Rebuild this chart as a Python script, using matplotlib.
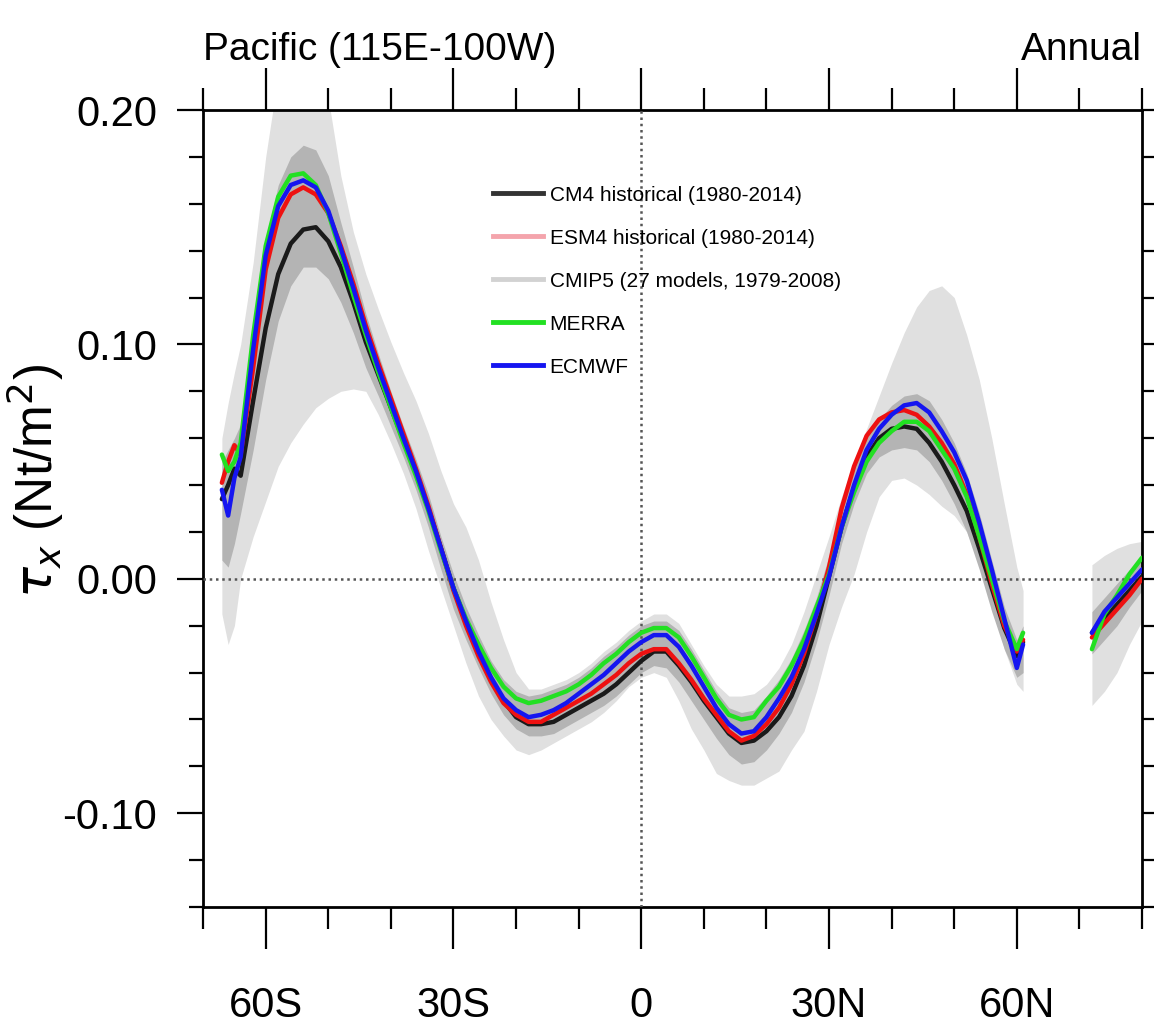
import matplotlib
matplotlib.use("Agg")
import matplotlib.pyplot as plt
from matplotlib.lines import Line2D
from matplotlib.ticker import MultipleLocator, FixedLocator

plt.rcParams['font.family'] = ['Liberation Sans', 'DejaVu Sans']

# latitude grid (negative = south); the curves have a gap between 61N and 72N
lat_a = [-67, -66, -65, -64,
         -62, -60, -58, -56, -54, -52, -50, -48, -46, -44, -42, -40, -38, -36, -34, -32,
         -30, -28, -26, -24, -22, -20, -18, -16, -14, -12, -10, -8, -6, -4, -2,
         0, 2, 4, 6, 8, 10, 12, 14, 16, 18, 20, 22, 24, 26, 28,
         30, 32, 34, 36, 38, 40, 42, 44, 46, 48, 50, 52, 54, 56, 58, 60, 61]
lat_b = [72, 74, 76, 78, 80]

cm4_a = [0.034, 0.040, 0.047, 0.044,
         0.076, 0.107, 0.130, 0.143, 0.149, 0.150, 0.144, 0.133, 0.118, 0.101, 0.087, 0.073, 0.059, 0.045, 0.030, 0.013,
         -0.004, -0.018, -0.031, -0.043, -0.052, -0.059, -0.062, -0.062, -0.061, -0.058, -0.055, -0.052, -0.049, -0.045, -0.040,
         -0.035, -0.031, -0.031, -0.037, -0.044, -0.052, -0.059, -0.066, -0.070, -0.069, -0.065, -0.059, -0.050, -0.037, -0.020,
         0.001, 0.022, 0.039, 0.052, 0.060, 0.064, 0.065, 0.064, 0.058, 0.050, 0.040, 0.029, 0.013, -0.004, -0.021, -0.033, -0.027]
esm4_a = [0.041, 0.050, 0.057, 0.053,
          0.090, 0.132, 0.154, 0.164, 0.167, 0.164, 0.156, 0.142, 0.126, 0.108, 0.092, 0.077, 0.062, 0.047, 0.031, 0.013,
          -0.005, -0.020, -0.033, -0.044, -0.053, -0.058, -0.061, -0.061, -0.058, -0.055, -0.052, -0.049, -0.045, -0.041, -0.036,
          -0.032, -0.030, -0.030, -0.036, -0.043, -0.051, -0.058, -0.065, -0.069, -0.067, -0.062, -0.055, -0.045, -0.032, -0.015,
          0.005, 0.030, 0.048, 0.061, 0.068, 0.071, 0.072, 0.070, 0.065, 0.058, 0.049, 0.036, 0.018, -0.002, -0.020, -0.031, -0.026]
merra_a = [0.053, 0.046, 0.050, 0.058,
           0.104, 0.142, 0.163, 0.172, 0.173, 0.168, 0.156, 0.139, 0.121, 0.104, 0.088, 0.073, 0.058, 0.044, 0.029, 0.012,
           -0.004, -0.017, -0.028, -0.038, -0.046, -0.051, -0.053, -0.052, -0.050, -0.048, -0.045, -0.041, -0.036, -0.032, -0.027,
           -0.023, -0.021, -0.021, -0.025, -0.033, -0.042, -0.051, -0.058, -0.060, -0.059, -0.052, -0.046, -0.037, -0.026, -0.012,
           0.002, 0.022, 0.037, 0.050, 0.058, 0.063, 0.067, 0.067, 0.063, 0.055, 0.047, 0.035, 0.018, 0.000, -0.018, -0.030, -0.023]
ecmwf_a = [0.038, 0.027, 0.043, 0.052,
           0.098, 0.138, 0.159, 0.168, 0.170, 0.167, 0.157, 0.141, 0.124, 0.106, 0.090, 0.075, 0.060, 0.046, 0.030, 0.013,
           -0.004, -0.018, -0.031, -0.042, -0.051, -0.056, -0.059, -0.058, -0.056, -0.053, -0.049, -0.045, -0.041, -0.036, -0.031,
           -0.027, -0.024, -0.024, -0.029, -0.037, -0.046, -0.055, -0.062, -0.066, -0.065, -0.059, -0.051, -0.042, -0.030, -0.015,
           0.001, 0.022, 0.040, 0.055, 0.064, 0.070, 0.074, 0.075, 0.071, 0.063, 0.054, 0.042, 0.024, 0.004, -0.017, -0.038, -0.028]

# CMIP5 spread: outer (light) and inner (dark) envelopes
cmip5_hi_a = [0.060, 0.075, 0.088, 0.100,
              0.135, 0.180, 0.215, 0.225, 0.226, 0.222, 0.205, 0.172, 0.148, 0.130, 0.115, 0.101, 0.088, 0.076, 0.062, 0.046,
              0.032, 0.022, 0.008, -0.010, -0.026, -0.040, -0.047, -0.047, -0.045, -0.043, -0.040, -0.036, -0.031, -0.027, -0.022,
              -0.018, -0.015, -0.015, -0.019, -0.028, -0.037, -0.045, -0.050, -0.050, -0.049, -0.045, -0.038, -0.028, -0.014, 0.002,
              0.018, 0.035, 0.050, 0.064, 0.078, 0.092, 0.105, 0.116, 0.123, 0.125, 0.120, 0.104, 0.085, 0.060, 0.032, 0.005, -0.005]
cmip5_lo_a = [-0.015, -0.028, -0.020, 0.000,
              0.018, 0.033, 0.048, 0.058, 0.066, 0.073, 0.077, 0.080, 0.081, 0.080, 0.070, 0.058, 0.045, 0.030, 0.012, -0.004,
              -0.020, -0.036, -0.050, -0.060, -0.067, -0.073, -0.075, -0.073, -0.070, -0.067, -0.064, -0.061, -0.057, -0.052, -0.046,
              -0.042, -0.040, -0.042, -0.052, -0.064, -0.073, -0.083, -0.086, -0.088, -0.088, -0.085, -0.082, -0.073, -0.065, -0.048,
              -0.028, -0.012, 0.002, 0.020, 0.035, 0.042, 0.043, 0.040, 0.036, 0.031, 0.027, 0.020, 0.006, -0.010, -0.030, -0.045, -0.048]
inner_hi_a = [0.050, 0.055, 0.060, 0.066,
              0.106, 0.145, 0.168, 0.180, 0.185, 0.183, 0.172, 0.152, 0.133, 0.113, 0.096, 0.080, 0.065, 0.051, 0.036, 0.018,
              0.002, -0.012, -0.024, -0.035, -0.043, -0.048, -0.050, -0.049, -0.047, -0.045, -0.042, -0.038, -0.033, -0.029, -0.024,
              -0.020, -0.018, -0.018, -0.022, -0.030, -0.039, -0.048, -0.055, -0.057, -0.056, -0.050, -0.043, -0.034, -0.022, -0.008,
              0.010, 0.030, 0.047, 0.060, 0.068, 0.074, 0.078, 0.079, 0.076, 0.068, 0.058, 0.045, 0.028, 0.008, -0.012, -0.026, -0.020]
inner_lo_a = [0.008, 0.005, 0.015, 0.028,
              0.055, 0.085, 0.110, 0.125, 0.133, 0.133, 0.128, 0.118, 0.105, 0.090, 0.078, 0.065, 0.052, 0.038, 0.022, 0.004,
              -0.013, -0.026, -0.038, -0.049, -0.058, -0.064, -0.067, -0.067, -0.066, -0.063, -0.060, -0.057, -0.054, -0.050, -0.045,
              -0.040, -0.037, -0.038, -0.044, -0.052, -0.060, -0.068, -0.075, -0.079, -0.078, -0.073, -0.066, -0.057, -0.044, -0.027,
              -0.007, 0.015, 0.032, 0.045, 0.052, 0.055, 0.056, 0.055, 0.050, 0.042, 0.032, 0.020, 0.004, -0.014, -0.030, -0.042, -0.040]

cm4_b = [-0.023, -0.017, -0.011, -0.005, 0.001]
esm4_b = [-0.025, -0.019, -0.013, -0.007, 0.000]
merra_b = [-0.030, -0.015, -0.007, 0.002, 0.009]
ecmwf_b = [-0.023, -0.014, -0.008, -0.002, 0.004]
cmip5_hi_b = [0.006, 0.010, 0.013, 0.015, 0.016]
cmip5_lo_b = [-0.054, -0.048, -0.040, -0.028, -0.018]
inner_hi_b = [-0.014, -0.008, -0.002, 0.004, 0.010]
inner_lo_b = [-0.032, -0.026, -0.020, -0.012, -0.005]

xticks = [-60, -30, 0, 30, 60]
xlabels = ['60S', '30S', '0', '30N', '60N']
yticks = [-0.10, 0.00, 0.10, 0.20]
ylabels = ['-0.10', '0.00', '0.10', '0.20']

c_cm4 = '#1a1a1a'
c_esm4 = '#ee1111'
c_merra = '#22e022'
c_ecmwf = '#1515f0'
c_light = '#e0e0e0'
c_dark = '#b4b4b4'

fig = plt.figure(figsize=(11.54, 10.34), dpi=100)
ax = fig.add_axes([0.176, 0.1228, 0.8136, 0.7708])

for lat, lo, hi, ilo, ihi in [(lat_a, cmip5_lo_a, cmip5_hi_a, inner_lo_a, inner_hi_a),
                              (lat_b, cmip5_lo_b, cmip5_hi_b, inner_lo_b, inner_hi_b)]:
    ax.fill_between(lat, lo, hi, color=c_light, lw=0, zorder=1)
    ax.fill_between(lat, ilo, ihi, color=c_dark, lw=0, zorder=2)

ax.axhline(0, color='#555555', lw=1.8, ls=(0, (1, 1.5)), zorder=3)
ax.axvline(0, color='#555555', lw=1.8, ls=(0, (1, 1.5)), zorder=3)

for lat, ys in [(lat_a, (cm4_a, esm4_a, merra_a, ecmwf_a)), (lat_b, (cm4_b, esm4_b, merra_b, ecmwf_b))]:
    for y, c in zip(ys, (c_cm4, c_esm4, c_merra, c_ecmwf)):
        ax.plot(lat, y, color=c, lw=3.2, solid_capstyle='round', solid_joinstyle='round', zorder=4)

ax.set_xlim(-70, 80)
ax.set_ylim(-0.14, 0.20)

ax.xaxis.set_major_locator(FixedLocator(xticks))
ax.set_xticklabels(xlabels)
ax.xaxis.set_minor_locator(MultipleLocator(10))
ax.yaxis.set_major_locator(FixedLocator(yticks))
ax.set_yticklabels(ylabels)
ax.yaxis.set_minor_locator(MultipleLocator(0.02))

ax.tick_params(axis='both', which='both', direction='out', top=True, right=True, width=1.6, labelsize=30)
ax.tick_params(axis='x', which='major', length=30, pad=27)
ax.tick_params(axis='x', which='minor', length=16)
ax.tick_params(axis='y', which='major', length=19, pad=14)
ax.tick_params(axis='y', which='minor', length=10)
for s in ax.spines.values():
    s.set_linewidth(2)

ax.set_ylabel(r'$\tau_x$ (Nt/m$^2$)', fontsize=37)
ax.yaxis.set_label_coords(-0.146, 0.535)

ax.set_title('Pacific (115E-100W)', loc='left', fontsize=28, pad=38)
ax.set_title('Annual', loc='right', fontsize=28, pad=36)

handles = [Line2D([], [], color='#333333', lw=3.5),
           Line2D([], [], color='#f4a4ac', lw=3.5),
           Line2D([], [], color='#d2d2d2', lw=3.5),
           Line2D([], [], color=c_merra, lw=3.5),
           Line2D([], [], color=c_ecmwf, lw=3.5)]
labels = ['CM4 historical (1980-2014)', 'ESM4 historical (1980-2014)',
          'CMIP5 (27 models, 1979-2008)', 'MERRA', 'ECMWF']
ax.legend(handles, labels, loc='upper left', bbox_to_anchor=(0.298, 0.918), frameon=False,
          fontsize=15, handlelength=2.4, handletextpad=0.3, labelspacing=1.15, borderpad=0)

fig.savefig('out.png', dpi=100)
